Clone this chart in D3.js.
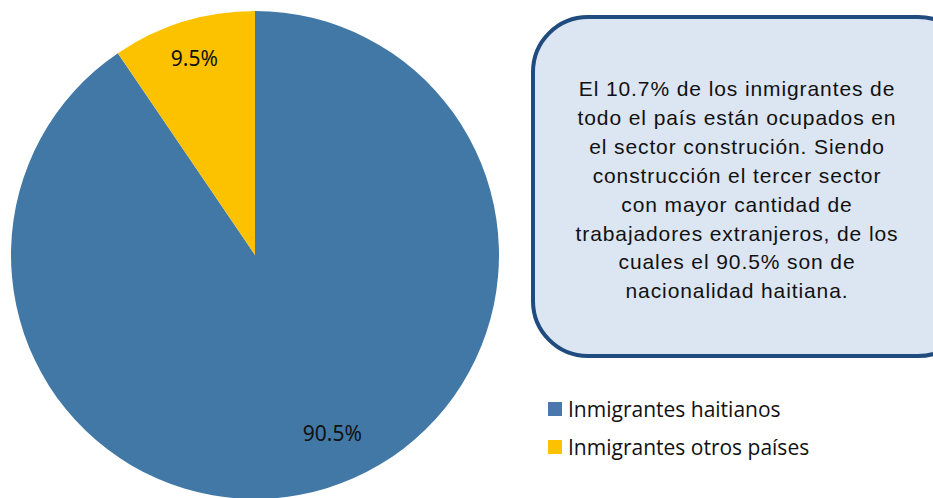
<!DOCTYPE html>
<html>
<head>
<meta charset="utf-8">
<script src="https://cdn.jsdelivr.net/npm/d3@7"></script>
<style>
  body { margin: 0; background: #fff; }
  svg { display: block; }
</style>
</head>
<body>
<svg id="chart" width="933" height="498"></svg>
<script>
const categories = ['Inmigrantes haitianos', 'Inmigrantes otros países']
const values = [90.5, 9.5]
const labels = ['90.5%', '9.5%']
const colors = ['#4278a6', '#fcc200']
const legendColors = ['#4a78ad', '#fcc200']
const noteLines = [
    'El 10.7% de los inmigrantes de',
    'todo el país están ocupados en',
    'el sector construción. Siendo',
    'construcción el tercer sector',
    'con mayor cantidad de',
    'trabajadores extranjeros, de los',
    'cuales el 90.5% son de',
    'nacionalidad haitiana.'
]

const svg = d3.select('#chart')

const cx = 255, cy = 255, r = 244

const pie = d3.pie().sort(null).value(d => d)
const arcs = pie(values)
const arc = d3.arc().innerRadius(0).outerRadius(r)

const g = svg.append('g').attr('transform', `translate(${cx},${cy})`)

g.selectAll('path')
    .data(arcs)
    .enter()
    .append('path')
    .attr('d', arc)
    .attr('fill', (d, i) => colors[i])

// excel "best fit" label spots, roughly
const labelRadius = [0.8, 0.845]
const labelNudge = [[20, -9], [0, 0]]

g.selectAll('text.lbl')
    .data(arcs)
    .enter()
    .append('text')
    .attr('class', 'lbl')
    .attr('transform', (d, i) => {
        const a = (d.startAngle + d.endAngle) / 2
        const k = labelRadius[i]
        const x = Math.sin(a) * r * k + labelNudge[i][0]
        const y = -Math.cos(a) * r * k + labelNudge[i][1]
        return `translate(${x},${y})`
    })
    .attr('text-anchor', 'middle')
    .attr('dominant-baseline', 'central')
    .attr('font-family', '"Noto Sans", sans-serif')
    .attr('font-size', 21)
    .attr('fill', '#111')
    .text((d, i) => labels[i])

// note box
svg.append('rect')
    .attr('x', 533)
    .attr('y', 17)
    .attr('width', 440)
    .attr('height', 339)
    .attr('rx', 55)
    .attr('ry', 55)
    .attr('fill', '#dce5f2')
    .attr('stroke', '#1f4b7e')
    .attr('stroke-width', 4)

const note = svg.append('text')
    .attr('text-anchor', 'middle')
    .attr('font-family', '"Liberation Sans", Arial, sans-serif')
    .attr('font-size', 21)
    .attr('letter-spacing', 0.9)
    .attr('fill', '#111')

note.selectAll('tspan')
    .data(noteLines)
    .enter()
    .append('tspan')
    .attr('x', 737)
    .attr('y', (d, i) => 96 + i * 28.9)
    .text(d => d)

// legend
const legend = svg.append('g').attr('transform', 'translate(548,409)')

const item = legend.selectAll('g')
    .data(categories)
    .enter()
    .append('g')
    .attr('transform', (d, i) => `translate(0,${i * 38})`)

item.append('rect')
    .attr('x', 0)
    .attr('y', -7)
    .attr('width', 14)
    .attr('height', 14)
    .attr('fill', (d, i) => legendColors[i])

item.append('text')
    .attr('x', 20)
    .attr('y', 0)
    .attr('dominant-baseline', 'central')
    .attr('font-family', '"Open Sans", sans-serif')
    .attr('font-size', 21)
    .attr('fill', '#111')
    .text(d => d)
</script>
</body>
</html>
